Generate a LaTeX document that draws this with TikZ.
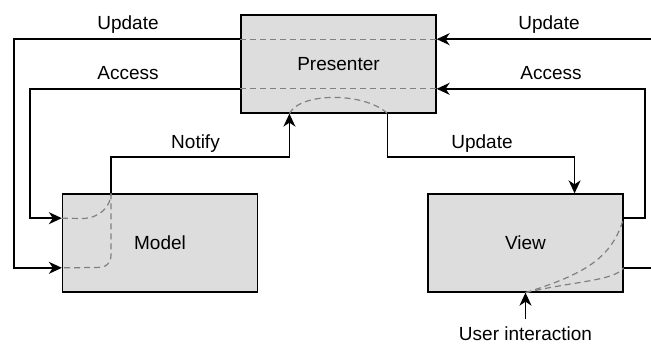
\documentclass[tikz,border=0pt]{standalone}
\usepackage{fontspec}
\setmainfont{Liberation Sans}
\usetikzlibrary{arrows.meta,calc}
\definecolor{boxfill}{HTML}{DDDDDD}
\definecolor{dashgray}{HTML}{808080}
\tikzset{
  box/.style={draw=black, fill=boxfill, line width=1.3pt, minimum width=195pt, minimum height=98pt, inner sep=0pt, font=\fontsize{19}{22}\selectfont},
  conn/.style={draw=black, line width=1.4pt},
  arr/.style={conn, -{Stealth[length=13pt,width=12pt,inset=4pt]}},
  flow/.style={draw=dashgray, line width=1.2pt, dash pattern=on 6pt off 4pt},
  lbl/.style={font=\fontsize{19}{22}\selectfont, anchor=base, inner sep=0pt},
}
\begin{document}
\begin{tikzpicture}[x=1pt, y=-1pt]
\useasboundingbox (0,0) rectangle (651,345);
\clip (0,0) rectangle (651,345);
% boxes
\node[box] (P) at (338.5,64) {Presenter};
\node[box] (M) at (160,243) {Model};
\node[box] (V) at (525.5,243) {View};
% anchor points
\coordinate (Pw1) at ($(P.north west)!0.25!(P.south west)$);
\coordinate (Pw2) at ($(P.north west)!0.75!(P.south west)$);
\coordinate (Pe1) at ($(P.north east)!0.25!(P.south east)$);
\coordinate (Pe2) at ($(P.north east)!0.75!(P.south east)$);
\coordinate (Pb1) at ($(P.south west)!0.25!(P.south east)$);
\coordinate (Pb2) at ($(P.south west)!0.75!(P.south east)$);
\coordinate (Mw1) at ($(M.north west)!0.25!(M.south west)$);
\coordinate (Mw2) at ($(M.north west)!0.75!(M.south west)$);
\coordinate (Mt) at ($(M.north west)!0.25!(M.north east)$);
\coordinate (Ve1) at ($(V.north east)!0.25!(V.south east)$);
\coordinate (Ve2) at ($(V.north east)!0.75!(V.south east)$);
\coordinate (Vt) at ($(V.north west)!0.75!(V.north east)$);
\coordinate (Vb) at (V.south);
% routing points
\coordinate (LU) at (14,150);
\coordinate (LA) at (30,150);
\coordinate (RA) at (645,150);
\coordinate (RU) at (665,150);
\coordinate (NC) at (200,157);
\coordinate (UC) at (480,157);
\coordinate (UIs) at (525.5,319);
% dashed internal flows
\draw[flow] (Pw1) -- (Pe1);
\draw[flow] (Pw2) -- (Pe2);
\draw[flow] (Pb1) .. controls (300,92) and (365,92) .. (Pb2);
\draw[flow] (Mw1) -- (82,218.5) .. controls (100,218.5) and (111,206) .. (Mt);
\draw[flow] (Mt) -- (111,255) .. controls (111,264) and (106,267.5) .. (96,267.5) -- (Mw2);
\draw[flow] (Vb) .. controls (585,274) and (612,258) .. (Ve1);
\draw[flow] (Vb) .. controls (575,281) and (614,281) .. (Ve2);
% connectors
\draw[arr] (Pw1) -| (LU) |- (Mw2);
\draw[arr] (Pw2) -| (LA) |- (Mw1);
\draw[arr] (Ve2) -| (RU) |- (Pe1);
\draw[arr] (Ve1) -| (RA) |- (Pe2);
\draw[arr] (Mt) |- (NC) -| (Pb1);
\draw[arr] (Pb2) |- (UC) -| (Vt);
\draw[arr] (UIs) -- (Vb);
% labels
\node[lbl] (lu) at (128,29.5) {Update};
\node[lbl] (la) at (128,80) {Access};
\node[lbl] (ru) at (549,29.5) {Update};
\node[lbl] (ra) at (551,80) {Access};
\node[lbl] (ln) at (195.5,148) {Notify};
\node[lbl] (lm) at (482,148) {Update};
\node[lbl] (ui) at (525.5,340) {User interaction};
\end{tikzpicture}
\end{document}
